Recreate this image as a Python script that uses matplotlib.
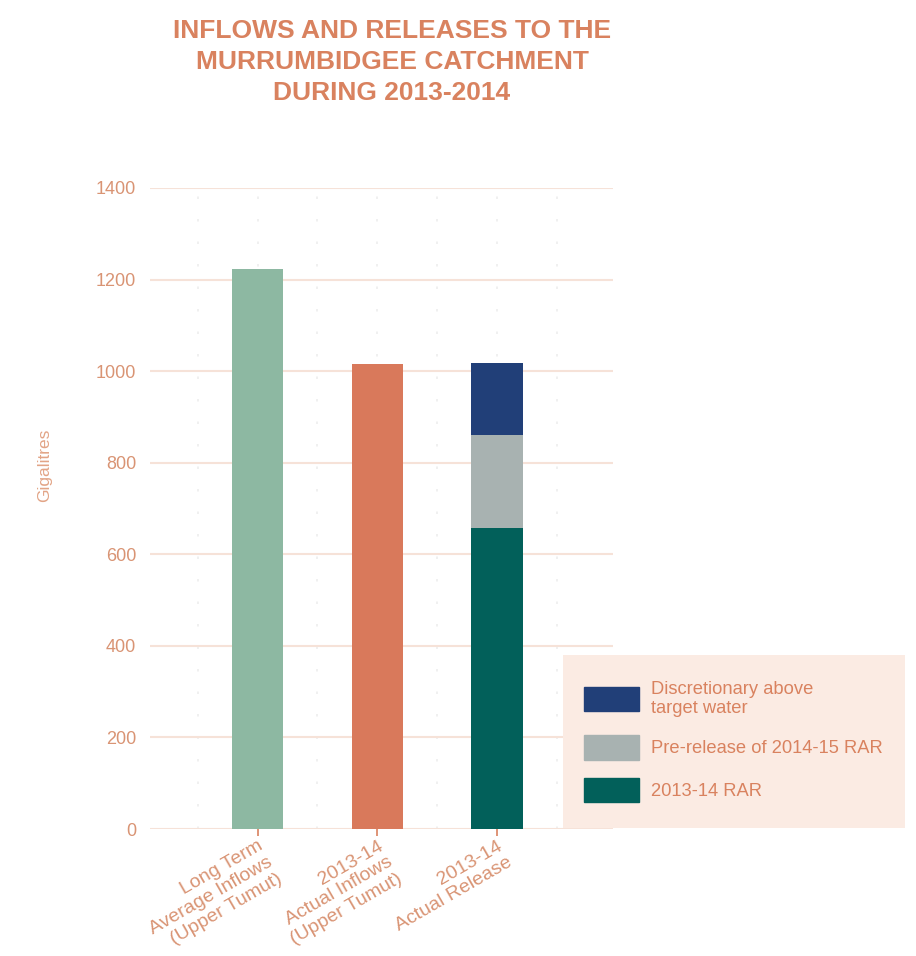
import matplotlib.pyplot as plt
from matplotlib.patches import Patch, Rectangle

categories = ["Long Term\nAverage Inflows\n(Upper Tumut)",
              "2013-14\nActual Inflows\n(Upper Tumut)",
              "2013-14\nActual Release"]
long_term = 1222
actual_inflows = 1015
rar_2013 = [0, 0, 657]
prerelease = [0, 0, 203]
discretionary = [0, 0, 158]

ORANGE = "#d9825f"
TEXT = "#d99474"
plt.rcParams['font.family'] = ['Liberation Sans', 'DejaVu Sans']

fig = plt.figure(figsize=(9.16, 9.56), dpi=100)
ax = fig.add_axes([150 / 916, 1 - 829 / 956, 463 / 916, 641 / 956])

x = [0, 1, 2]
w = 0.43
ax.bar(0, long_term, width=w, color="#8db8a2", zorder=3)
ax.bar(1, actual_inflows, width=w, color="#d9795b", zorder=3)
ax.bar(x, rar_2013, width=w, color="#02605a", zorder=3)
ax.bar(x, prerelease, width=w, bottom=rar_2013, color="#a8b2b1", zorder=3)
bottom2 = [a + b for a, b in zip(rar_2013, prerelease)]
ax.bar(x, discretionary, width=w, bottom=bottom2, color="#213f78", zorder=3)

ax.set_xlim(-0.9, 2.97)
ax.set_ylim(0, 1400)
ax.set_yticks(range(0, 1401, 200))
ax.grid(axis='y', which='major', color="#f6e2d8", linewidth=1.5, zorder=0)
# faint dotted vertical guides
for xv in [-0.5, 0, 0.5, 1, 1.5, 2, 2.5]:
    ax.axvline(xv, color="#ededed", linewidth=1.2, linestyle=(0, (1.5, 12)), zorder=0)
for s in ax.spines.values():
    s.set_visible(False)
ax.tick_params(axis='y', length=0, labelsize=13, labelcolor=TEXT, pad=10)
ax.set_xticks(x)
ax.set_xticklabels(categories, rotation=30, ha='right', va='top',
                   rotation_mode='anchor', multialignment='right',
                   fontsize=14, color=TEXT, linespacing=1.15)
ax.tick_params(axis='x', length=5, width=1.2, color=ORANGE, pad=1)

fig.text(45 / 916, 1 - 465 / 956, "Gigalitres", rotation=90, ha='center',
         va='center', fontsize=12.5, color="#e2a486")

fig.text(392 / 916, 1 - 62 / 956,
         "INFLOWS AND RELEASES TO THE\nMURRUMBIDGEE CATCHMENT\nDURING 2013-2014",
         ha='center', va='center', fontsize=19, fontweight='bold', color=ORANGE,
         linespacing=1.35)

# legend background box
fig.patches.append(Rectangle((563 / 916, 1 - 828 / 956), 342 / 916, 173 / 956,
                             transform=fig.transFigure, facecolor="#fbebe3",
                             edgecolor='none', zorder=0))
handles = [Patch(color="#213f78"), Patch(color="#a8b2b1"), Patch(color="#02605a")]
labels = ["Discretionary above\ntarget water", "Pre-release of 2014-15 RAR",
          "2013-14 RAR"]
leg = fig.legend(handles, labels, loc='upper left',
                 bbox_to_anchor=(567 / 916, 1 - 664 / 956), frameon=False,
                 fontsize=13.2, labelcolor=ORANGE, handlelength=3.0,
                 handleheight=1.65, labelspacing=1.0, handletextpad=0.7)

fig.savefig("out.png", dpi=100)
